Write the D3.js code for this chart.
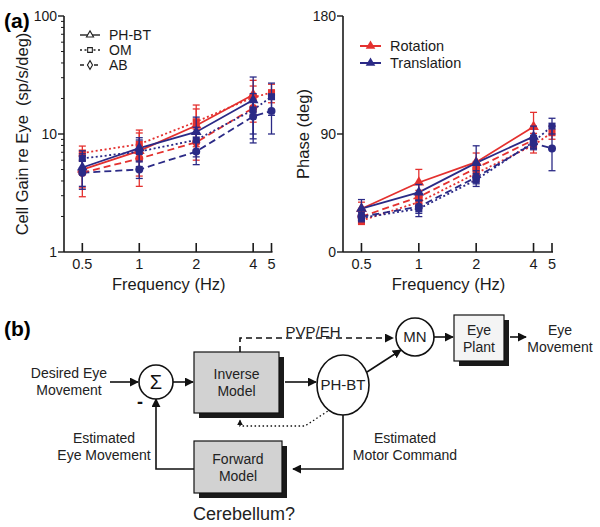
<!DOCTYPE html>
<html>
<head>
<meta charset="utf-8">
<script src="https://cdn.jsdelivr.net/npm/d3@7"></script>
<style>
  body { margin: 0; background: #fff; }
  svg { display: block; font-family: "Liberation Sans", Arial, Helvetica, sans-serif; }
</style>
</head>
<body>
<div id="fig"></div>
<script>
// Section 1: data
var freq4 = [0.5, 1, 2, 4];
var freq5 = [0.5, 1, 2, 4, 5];
var xTicks = [0.5, 1, 2, 4, 5];

// cell gain re eye (sp/s/deg), mean and sd
var gainRotPH = [5.0, 7.2, 11.8, 21.5];
var gainRotPHsd = [1.5, 3.6, 4.5, 7];
var gainTransPH = [5.2, 7.6, 10.4, 19.4];
var gainTransPHsd = [1.6, 1.7, 3.5, 11];
var gainRotOM = [6.9, 8.2, 12.7, 20.5, 22.4];
var gainRotOMsd = [1.0, 2.0, 4.9, 5, 4];
var gainTransOM = [6.2, 7.1, 8.9, 16, 20.7];
var gainTransOMsd = [1.0, 1.8, 2.5, 6, 6.3];
var gainRotAB = [4.7, 6.2, 8.5, 16.6];
var gainRotABsd = [1.76, 1.8, 2.5, 4];
var gainTransAB = [4.7, 5.0, 7.1, 14.1, 15.7];
var gainTransABsd = [1.3, 0.8, 1.6, 5, 5.7];

// phase (deg), mean and sd
var phRotPH = [33, 53, 68.5, 95.5];
var phRotPHsd = [5, 10, 7, 11];
var phTransPH = [33, 45.5, 68, 88];
var phTransPHsd = [7, 6, 13, 8];
var phRotOM = [24, 38, 60, 81.5, 91];
var phRotOMsd = [3, 5, 6, 6, 5];
var phTransOM = [26, 33, 55, 84, 96];
var phTransOMsd = [3, 6, 5, 5, 6];
var phRotAB = [27, 42, 64, 85.5];
var phRotABsd = [4, 5, 5, 5];
var phTransAB = [27, 34.5, 57, 83, 79];
var phTransABsd = [3, 5, 5, 5, 17];

var gainTicks = [1, 10, 100];
var phaseTicks = [0, 90, 180];
var cellLegend = ["PH-BT", "OM", "AB"];
var condLegend = ["Rotation", "Translation"];

var red = "#e4312f";
var blue = "#2b2a86";

var W = 600, H = 527;
var svg = d3.select("#fig").append("svg").attr("width", W).attr("height", H);

var defs = svg.append("defs");
defs.append("marker").attr("id", "arr")
  .attr("viewBox", "0 0 10 10").attr("refX", 9).attr("refY", 5)
  .attr("markerWidth", 9).attr("markerHeight", 9).attr("orient", "auto")
  .attr("markerUnits", "userSpaceOnUse")
  .append("path").attr("d", "M0,0 L10,5 L0,10 z").attr("fill", "#111");
defs.append("marker").attr("id", "arrSmall")
  .attr("viewBox", "0 0 10 10").attr("refX", 9).attr("refY", 5)
  .attr("markerWidth", 6).attr("markerHeight", 6).attr("orient", "auto")
  .attr("markerUnits", "userSpaceOnUse")
  .append("path").attr("d", "M0,0 L10,5 L0,10 z").attr("fill", "#111");

// build series
function series(fs, vals, sds, color, cell) {
  var styles = {
    "PH-BT": { dash: null, sym: d3.symbolTriangle },
    "OM": { dash: "2,2.5", sym: d3.symbolSquare },
    "AB": { dash: "7,4", sym: d3.symbolCircle }
  };
  return { pts: fs.map(function(f, i) { return { f: f, v: vals[i], sd: sds[i] }; }),
           color: color, dash: styles[cell].dash, sym: styles[cell].sym };
}

var gainSeries = [
  series(freq5, gainRotOM, gainRotOMsd, red, "OM"),
  series(freq4, gainRotAB, gainRotABsd, red, "AB"),
  series(freq4, gainRotPH, gainRotPHsd, red, "PH-BT"),
  series(freq5, gainTransOM, gainTransOMsd, blue, "OM"),
  series(freq5, gainTransAB, gainTransABsd, blue, "AB"),
  series(freq4, gainTransPH, gainTransPHsd, blue, "PH-BT")
];
var phaseSeries = [
  series(freq5, phRotOM, phRotOMsd, red, "OM"),
  series(freq4, phRotAB, phRotABsd, red, "AB"),
  series(freq4, phRotPH, phRotPHsd, red, "PH-BT"),
  series(freq5, phTransOM, phTransOMsd, blue, "OM"),
  series(freq5, phTransAB, phTransABsd, blue, "AB"),
  series(freq4, phTransPH, phTransPHsd, blue, "PH-BT")
];

// Section 2: one panel
function panel(x0, x1, yScale, yTicks, yMinor, data, yLabel, yLabelX) {
  var x = d3.scaleLog().domain([0.4, 5]).range([x0, x1]);
  var g = svg.append("g");

  // axes
  g.append("line").attr("x1", x0).attr("x2", x0).attr("y1", 16).attr("y2", 252)
    .attr("stroke", "#1a1a1a").attr("stroke-width", 1.6);
  g.append("line").attr("x1", x0).attr("x2", x(5) + 1).attr("y1", 252).attr("y2", 252)
    .attr("stroke", "#1a1a1a").attr("stroke-width", 1.6);

  yTicks.forEach(function(t) {
    g.append("line").attr("x1", x0 - 6).attr("x2", x0).attr("y1", yScale(t)).attr("y2", yScale(t))
      .attr("stroke", "#1a1a1a").attr("stroke-width", 1.4);
    g.append("text").attr("x", x0 - 7).attr("y", yScale(t) + 5).attr("text-anchor", "end")
      .attr("font-size", 14).attr("fill", "#1a1a1a").text(t);
  });
  yMinor.forEach(function(t) {
    g.append("line").attr("x1", x0 - 3).attr("x2", x0).attr("y1", yScale(t)).attr("y2", yScale(t))
      .attr("stroke", "#1a1a1a").attr("stroke-width", 1);
  });
  xTicks.forEach(function(t) {
    g.append("line").attr("x1", x(t)).attr("x2", x(t)).attr("y1", 243).attr("y2", 252)
      .attr("stroke", "#1a1a1a").attr("stroke-width", 1.6);
    g.append("text").attr("x", x(t)).attr("y", 269).attr("text-anchor", "middle")
      .attr("font-size", 14.5).attr("fill", "#1a1a1a").text(t);
  });
  g.append("text").attr("x", (x0 + x1) / 2 + 1).attr("y", 290).attr("text-anchor", "middle")
    .attr("font-size", 16.5).attr("fill", "#1a1a1a").text("Frequency (Hz)");
  g.append("text").attr("transform", "translate(" + yLabelX + "," + 134 + ")rotate(-90)")
    .attr("text-anchor", "middle").attr("font-size", 16.5).attr("fill", "#1a1a1a")
    .style("white-space", "pre").text(yLabel);

  var line = d3.line().x(function(d) { return x(d.f); }).y(function(d) { return yScale(d.v); });

  data.forEach(function(s) {
    g.append("path").datum(s.pts).attr("d", line).attr("fill", "none")
      .attr("stroke", s.color).attr("stroke-width", 1.8)
      .attr("stroke-dasharray", s.dash);
  });
  data.forEach(function(s) {
    s.pts.forEach(function(p) {
      var lo = yScale(Math.max(p.v - p.sd, 0.01)), hi = yScale(p.v + p.sd), cx = x(p.f);
      g.append("line").attr("x1", cx).attr("x2", cx).attr("y1", lo).attr("y2", hi)
        .attr("stroke", s.color).attr("stroke-width", 1.3);
      [lo, hi].forEach(function(yy) {
        g.append("line").attr("x1", cx - 3.5).attr("x2", cx + 3.5).attr("y1", yy).attr("y2", yy)
          .attr("stroke", s.color).attr("stroke-width", 1.3);
      });
      g.append("path").attr("d", d3.symbol().type(s.sym).size(50)())
        .attr("transform", "translate(" + cx + "," + yScale(p.v) + ")")
        .attr("fill", s.color);
    });
  });
  return g;
}

var yGain = d3.scaleLog().domain([1, 100]).range([252, 16]);
var gainMinor = [2, 3, 4, 5, 6, 7, 8, 9, 20, 30, 40, 50, 60, 70, 80, 90];
var yPhase = d3.scaleLinear().domain([0, 180]).range([252, 16]);

var gA = panel(64, 271.5, yGain, gainTicks, gainMinor, gainSeries, "Cell Gain re Eye  (sp/s/deg)", 28);
var gB = panel(343, 552, yPhase, phaseTicks, [], phaseSeries, "Phase (deg)", 309);

svg.append("text").attr("x", 4).attr("y", 28).attr("font-size", 21).attr("font-weight", "bold")
  .text("(a)");

// legend: cell types
var legDash = { "PH-BT": null, "OM": "2,2.5", "AB": "4,3" };
var legSym = { "PH-BT": d3.symbolTriangle, "OM": d3.symbolSquare, "AB": d3.symbolDiamond };
cellLegend.forEach(function(name, i) {
  var yy = 35 + i * 15;
  gA.append("line").attr("x1", 80).attr("x2", 100).attr("y1", yy).attr("y2", yy)
    .attr("stroke", "#222").attr("stroke-width", 1.4).attr("stroke-dasharray", legDash[name]);
  gA.append("path").attr("d", d3.symbol().type(legSym[name]).size(22)())
    .attr("transform", "translate(90," + yy + ")").attr("fill", "#fff")
    .attr("stroke", "#222").attr("stroke-width", 1.1);
  gA.append("text").attr("x", 109).attr("y", yy + 5).attr("font-size", 14).attr("fill", "#1a1a1a")
    .text(name);
});
// legend: conditions
condLegend.forEach(function(name, i) {
  var yy = 46 + i * 17;
  var c = i === 0 ? red : blue;
  gB.append("line").attr("x1", 360).attr("x2", 381).attr("y1", yy).attr("y2", yy)
    .attr("stroke", c).attr("stroke-width", 2);
  gB.append("path").attr("d", d3.symbol().type(d3.symbolTriangle).size(40)())
    .attr("transform", "translate(370.5," + yy + ")").attr("fill", c);
  gB.append("text").attr("x", 390).attr("y", yy + 5).attr("font-size", 14.5).attr("fill", "#1a1a1a")
    .text(name);
});

// Section 3: block diagram (b)
var dg = svg.append("g").attr("fill", "none").attr("stroke", "#111").attr("stroke-width", 1.6);
svg.append("text").attr("x", 4).attr("y", 336).attr("font-size", 21).attr("font-weight", "bold")
  .text("(b)");

function box(x, y, w, h, fill, lines) {
  svg.append("rect").attr("x", x + 5).attr("y", y + 5).attr("width", w).attr("height", h)
    .attr("fill", "#1a1a1a");
  svg.append("rect").attr("x", x).attr("y", y).attr("width", w).attr("height", h)
    .attr("fill", fill).attr("stroke", "#111").attr("stroke-width", 1.2);
  lines.forEach(function(t, i) {
    svg.append("text").attr("x", x + w / 2).attr("y", y + h / 2 + (i - (lines.length - 1) / 2) * 17 + 5)
      .attr("text-anchor", "middle").attr("font-size", 14).attr("fill", "#222").text(t);
  });
}
function label(x, y, lines, size) {
  lines.forEach(function(t, i) {
    svg.append("text").attr("x", x).attr("y", y + i * 17).attr("text-anchor", "middle")
      .attr("font-size", size || 14).attr("fill", "#222").text(t);
  });
}

// connectors
dg.append("path").attr("d", "M240,352 V338 H393").attr("stroke-dasharray", "6,4")
  .attr("marker-end", "url(#arr)");
dg.append("path").attr("d", "M110,382 H138").attr("marker-end", "url(#arr)");
dg.append("path").attr("d", "M173,382 H193").attr("marker-end", "url(#arr)");
dg.append("path").attr("d", "M285,382 H316").attr("marker-end", "url(#arr)");
dg.append("path").attr("d", "M367,372 L401,350").attr("marker-end", "url(#arr)");
dg.append("path").attr("d", "M434,337 H453").attr("marker-end", "url(#arr)");
dg.append("path").attr("d", "M510,337 H526").attr("marker-end", "url(#arr)");
dg.append("path").attr("d", "M331,409 L305,426 H240 V420").attr("stroke-dasharray", "1.5,2.5")
  .attr("stroke-width", 1.3).attr("marker-end", "url(#arrSmall)");
dg.append("path").attr("d", "M343,415 V469 H293").attr("marker-end", "url(#arr)");
dg.append("path").attr("d", "M194,469 H156 V399").attr("marker-end", "url(#arr)");

box(194, 352, 85, 61, "#d2d2d2", ["Inverse", "Model"]);
box(194, 441, 88, 52, "#d2d2d2", ["Forward", "Model"]);
box(454, 315, 50, 46, "#f4f4f4", ["Eye", "Plant"]);

// nodes
dg.append("circle").attr("cx", 156).attr("cy", 382).attr("r", 17).attr("fill", "#fff");
svg.append("text").attr("x", 156).attr("y", 389).attr("text-anchor", "middle")
  .attr("font-size", 20).attr("fill", "#111").text("\u03A3");
svg.append("text").attr("x", 140).attr("y", 408).attr("text-anchor", "middle")
  .attr("font-size", 18).attr("font-weight", "bold").attr("fill", "#111").text("-");
dg.append("ellipse").attr("cx", 343).attr("cy", 385).attr("rx", 26).attr("ry", 30).attr("fill", "#fff");
svg.append("text").attr("x", 343).attr("y", 390).attr("text-anchor", "middle")
  .attr("font-size", 15).attr("fill", "#222").text("PH-BT");
dg.append("circle").attr("cx", 415).attr("cy", 337).attr("r", 19).attr("fill", "#fff");
svg.append("text").attr("x", 415).attr("y", 342).attr("text-anchor", "middle")
  .attr("font-size", 15).attr("fill", "#222").text("MN");

svg.append("text").attr("x", 313).attr("y", 337).attr("text-anchor", "middle")
  .attr("font-size", 15).attr("fill", "#222").text("PVP/EH");
label(69, 378, ["Desired Eye", "Movement"]);
label(560, 335, ["Eye", "Movement"]);
label(104, 443, ["Estimated", "Eye Movement"]);
label(405, 443, ["Estimated", "Motor Command"]);
label(244, 520, ["Cerebellum?"], 18);
</script>
</body>
</html>
